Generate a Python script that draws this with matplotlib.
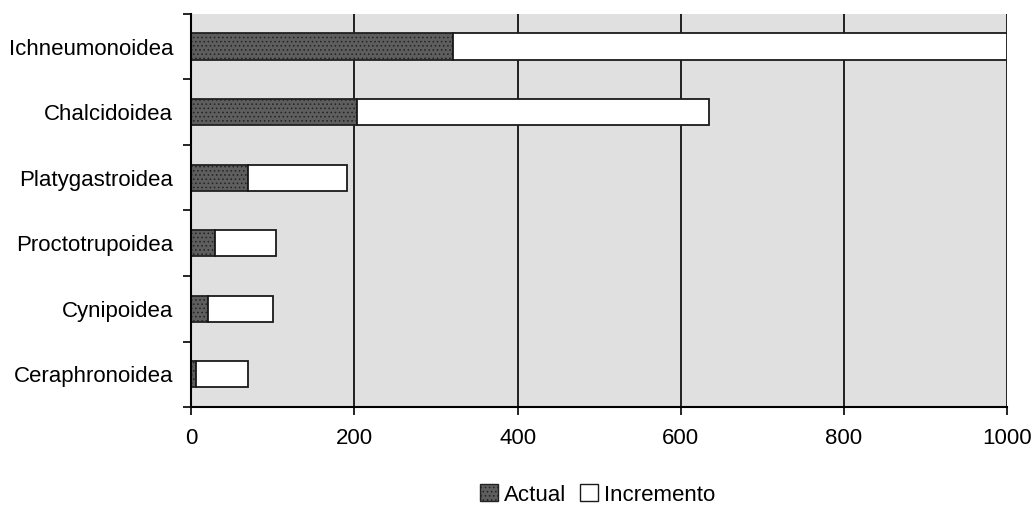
import numpy as np
import matplotlib.pyplot as plt
from matplotlib.patches import Patch

plt.rcParams['font.family'] = ['Liberation Sans', 'DejaVu Sans']
plt.rcParams['hatch.linewidth'] = 0.6

grupos = ['Ichneumonoidea', 'Chalcidoidea', 'Platygastroidea',
          'Proctotrupoidea', 'Cynipoidea', 'Ceraphronoidea']
actual = [321, 203, 69, 29, 21, 6]
incremento = [679, 431, 122, 75, 79, 64]

fig = plt.figure(figsize=(10.34, 5.12), dpi=100)
ax = fig.add_axes([0.185, 0.205, 0.789, 0.768])
ax.set_facecolor('#e0e0e0')

y = np.arange(len(grupos))[::-1]
ax.barh(y, actual, height=0.4, color='#5e5e5e', edgecolor='#222222',
        hatch='....', linewidth=1.3, zorder=3)
ax.barh(y, incremento, left=actual, height=0.4, color='white',
        edgecolor='#1a1a1a', linewidth=1.3, zorder=3)

ax.set_xlim(0, 1000)
ax.set_ylim(-0.5, len(grupos) - 0.5)
ax.set_xticks([0, 200, 400, 600, 800, 1000])
ax.xaxis.grid(True, color='black', linewidth=1.2, zorder=1)
ax.set_yticks(y)
ax.set_yticklabels(grupos, fontsize=16)
ax.set_yticks(np.arange(-0.5, len(grupos)), minor=True)
ax.tick_params(axis='y', which='major', length=0, pad=13)
ax.tick_params(axis='y', which='minor', length=6, width=1.2, direction='out')
ax.tick_params(axis='x', labelsize=16, length=6, width=1.2, pad=9)
for s in ['top', 'right']:
    ax.spines[s].set_visible(False)
for s in ['left', 'bottom']:
    ax.spines[s].set_linewidth(1.5)
    ax.spines[s].set_zorder(4)

handles = [Patch(facecolor='#5e5e5e', edgecolor='#222222', hatch='....', label='Actual'),
           Patch(facecolor='white', edgecolor='#1a1a1a', label='Incremento')]
fig.legend(handles=handles, loc='center', bbox_to_anchor=(0.578, 0.033), ncol=2,
           frameon=False, fontsize=16, handlelength=0.8, handleheight=0.8,
           handletextpad=0.3, columnspacing=0.6)

fig.savefig('out.png', dpi=100)
